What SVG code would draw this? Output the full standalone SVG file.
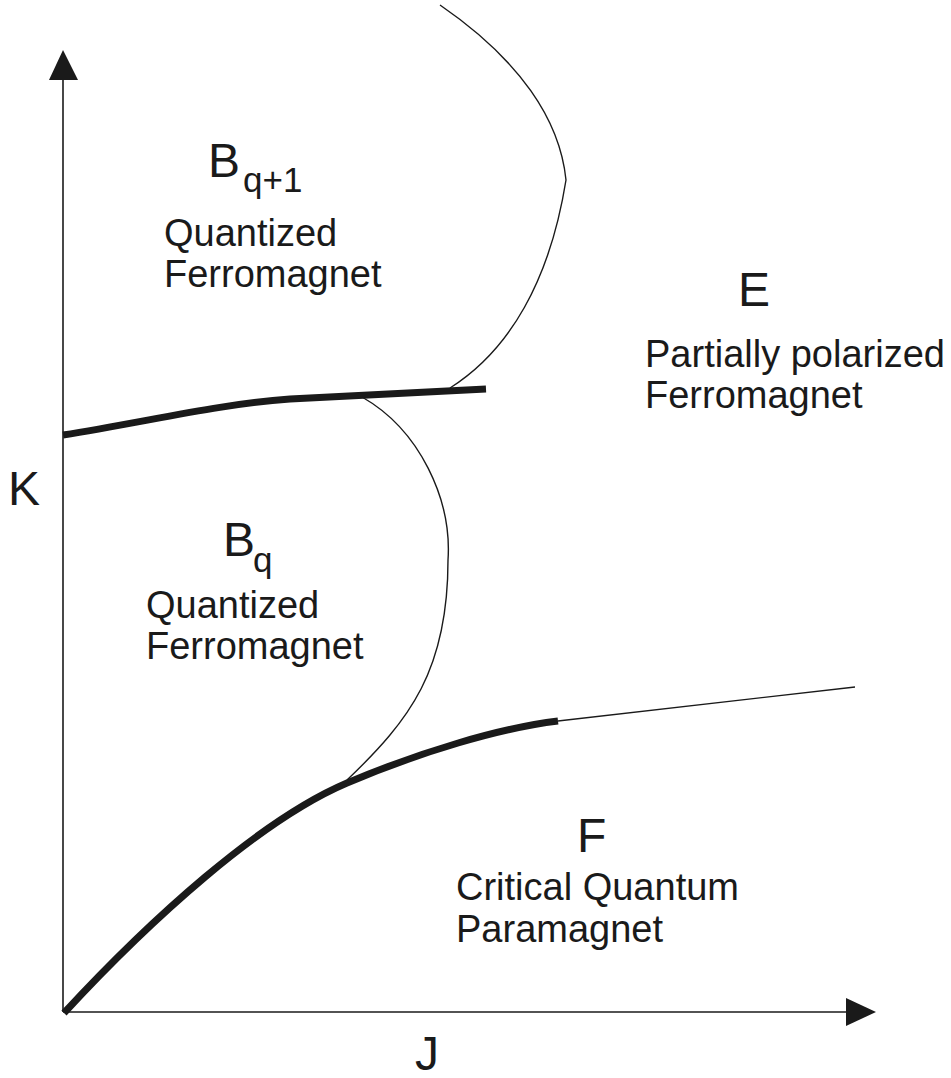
<svg xmlns="http://www.w3.org/2000/svg" width="951" height="1078" viewBox="0 0 951 1078">
<style>
.axis{stroke:#1a1a1a;stroke-width:1.6;fill:none}
.thin{stroke:#1a1a1a;stroke-width:1.4;fill:none}
.thick{stroke:#1a1a1a;stroke-width:7;fill:none}
text{font-family:"Liberation Sans",Arial,sans-serif;fill:#1a1a1a}
.big{font-size:48px}
.sub{font-size:35px}
.lbl{font-size:38px}
</style>
<rect width="951" height="1078" fill="#fff"/>
<g id="connectors">
<line class="axis" x1="63" y1="1012" x2="63" y2="76"/>
<polygon points="63,50 49,80 78,80" fill="#1a1a1a"/>
<line class="axis" x1="63" y1="1012" x2="850" y2="1012"/>
<polygon points="876,1012 846,998 846,1026" fill="#1a1a1a"/>
<path class="thick" d="M63,435 C150,421 220,404 290,399 L486,389"/>
<path class="thin" d="M450,388 C510,350 550,280 566,180 C560,120 520,60 440,5"/>
<path class="thin" d="M362,397 C420,430 452,500 448,560 C448,670 410,720 347,780"/>
<path class="thick" d="M64,1013 C150,920 260,820 347,783 C420,752 500,728 558,721"/>
<path class="thin" d="M558,721 L855,687"/>
</g>
<g id="axis-k"><text class="big" x="8" y="505">K</text></g>
<g id="axis-j"><text class="big" x="415" y="1070">J</text></g>
<g id="region-bq1">
<text class="big" x="208" y="177">B</text>
<text class="sub" x="243" y="192">q+1</text>
<text class="lbl" x="164" y="246">Quantized</text>
<text class="lbl" x="164" y="287">Ferromagnet</text>
</g>
<g id="region-e">
<text class="big" x="738" y="306">E</text>
<text class="lbl" x="645" y="367">Partially polarized</text>
<text class="lbl" x="645" y="408">Ferromagnet</text>
</g>
<g id="region-bq">
<text class="big" x="223" y="556">B</text>
<text class="sub" x="253" y="572">q</text>
<text class="lbl" x="146" y="618">Quantized</text>
<text class="lbl" x="146" y="659">Ferromagnet</text>
</g>
<g id="region-f">
<text class="big" x="577" y="852">F</text>
<text class="lbl" x="456" y="900">Critical Quantum</text>
<text class="lbl" x="456" y="942">Paramagnet</text>
</g>
</svg>
